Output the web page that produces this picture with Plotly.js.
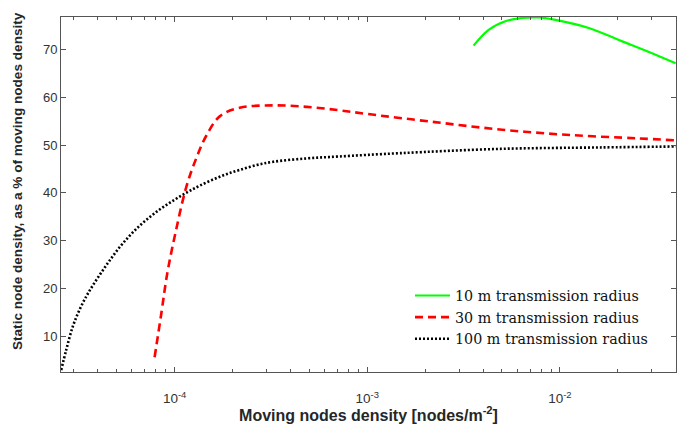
<!DOCTYPE html>
<html>
<head>
<meta charset="utf-8">
<script src="https://cdn.plot.ly/plotly-3.0.1.min.js"></script>
<style>html,body{margin:0;padding:0;background:#fff;}#chart{width:680px;height:424px;}</style>
</head>
<body>
<div id="chart"></div>
<script>
// Data (x: moving node density, y: % static node density)
const seriesNames = ["10 m transmission radius", "30 m transmission radius", "100 m transmission radius"];

const x10 = [3.565e-3, 4.266e-3, 5.212e-3, 6.368e-3, 7.762e-3, 9.484e-3, 1.413e-2, 2.109e-2, 3.141e-2, 3.990e-2];
const y10 = [70.8, 74.1, 75.9, 76.6, 76.7, 76.2, 74.5, 71.7, 68.9, 67.1];

const x30 = [7.870e-5, 8.531e-5, 9.162e-5, 1.012e-4, 1.151e-4, 1.297e-4, 1.462e-4, 1.714e-4, 2.178e-4, 3.251e-4, 4.842e-4, 7.079e-4, 1.002e-3, 2.244e-3, 5.023e-3, 1.127e-2, 2.523e-2, 3.926e-2];
const y30 = [5.6, 14.8, 23.2, 31.8, 41.3, 47.3, 52.0, 56.0, 57.8, 58.3, 58.0, 57.3, 56.5, 54.8, 53.2, 52.1, 51.4, 51.0];

const x100 = [2.576e-5, 2.735e-5, 2.958e-5, 3.206e-5, 3.475e-5, 3.758e-5, 4.159e-5, 4.592e-5, 5.176e-5, 5.834e-5, 6.577e-5, 7.413e-5, 8.356e-5, 9.419e-5, 1.062e-4, 1.197e-4, 1.349e-4, 1.585e-4, 1.858e-4, 2.178e-4, 2.661e-4, 3.251e-4, 4.842e-4, 7.079e-4, 1.479e-3, 4.898e-3, 1.622e-2, 4.036e-2];
const y100 = [2.9, 7.1, 12.0, 15.5, 18.3, 20.6, 23.3, 25.8, 28.6, 31.0, 33.1, 34.9, 36.5, 37.9, 39.2, 40.4, 41.5, 42.8, 43.9, 44.8, 45.8, 46.5, 47.2, 47.6, 48.3, 49.2, 49.5, 49.7];

const xTickVals = [1e-4, 1e-3, 1e-2];
const xTickText = ["10<sup>-4</sup>", "10<sup>-3</sup>", "10<sup>-2</sup>"];
const yTickVals = [10, 20, 30, 40, 50, 60, 70];
const xTitle = "Moving nodes density [nodes/m<sup>-2</sup>]";
const yTitle = "Static node density, as a % of moving nodes density";

const minorVals = [];
for (let e = -5; e <= -2; e++) {
  for (let m = 2; m <= 9; m++) minorVals.push(m * Math.pow(10, e));
}

const traces = [
  {x: x10, y: y10, name: seriesNames[0], mode: "lines", line: {color: "#00ff00", width: 2.2, shape: "spline"}},
  {x: x30, y: y30, name: seriesNames[1], mode: "lines", line: {color: "#ff0000", width: 2.6, dash: "8px,5px", shape: "spline"}},
  {x: x100, y: y100, name: seriesNames[2], mode: "lines", line: {color: "#000000", width: 2.6, dash: "2px,2px", shape: "spline"}}
];

const axisColor = "#555555";
const layout = {
  width: 680, height: 424,
  margin: {l: 61, r: 4, t: 17, b: 52},
  paper_bgcolor: "#ffffff", plot_bgcolor: "#ffffff",
  font: {family: "Liberation Sans, Arial, sans-serif", size: 12, color: "#333333"},
  showlegend: true,
  legend: {
    x: 0.5675, y: 0.26, xanchor: "left", yanchor: "top",
    bgcolor: "rgba(255,255,255,0)", borderwidth: 0,
    itemwidth: 35,
    font: {family: "DejaVu Serif, serif", size: 14.3, color: "#111111"},
    tracegroupgap: 0
  },
  xaxis: {
    type: "log", range: [-4.590, -1.397], autorange: false,
    tickmode: "array", tickvals: xTickVals, ticktext: xTickText,
    ticks: "inside", ticklen: 5, tickcolor: axisColor, tickwidth: 1,
    ticklabelstandoff: 14,
    minor: {tickmode: "array", tickvals: minorVals, ticks: "inside", ticklen: 3, tickcolor: axisColor, showgrid: false},
    showline: true, linecolor: axisColor, linewidth: 1, mirror: "ticks",
    showgrid: false, zeroline: false,
    tickfont: {size: 13.5, color: "#333333"},
    title: {text: xTitle, font: {size: 16, color: "#262626", family: "Liberation Sans, Arial, sans-serif", weight: "bold"}, standoff: 3}
  },
  yaxis: {
    range: [2.5, 76.8], autorange: false,
    tickmode: "array", tickvals: yTickVals,
    ticks: "inside", ticklen: 5, tickcolor: axisColor, tickwidth: 1,
    showline: true, linecolor: axisColor, linewidth: 1, mirror: "ticks",
    showgrid: false, zeroline: false,
    tickfont: {size: 13, color: "#333333"}
  },
  annotations: [{
    text: yTitle, xref: "paper", yref: "paper",
    x: -0.0715, y: 0.538, xanchor: "center", yanchor: "middle",
    textangle: -90, showarrow: false,
    font: {size: 13.6, color: "#262626", family: "Liberation Sans, Arial, sans-serif", weight: "bold"}
  }]
};

Plotly.newPlot("chart", traces, layout, {displayModeBar: false, staticPlot: true});
</script>
</body>
</html>
